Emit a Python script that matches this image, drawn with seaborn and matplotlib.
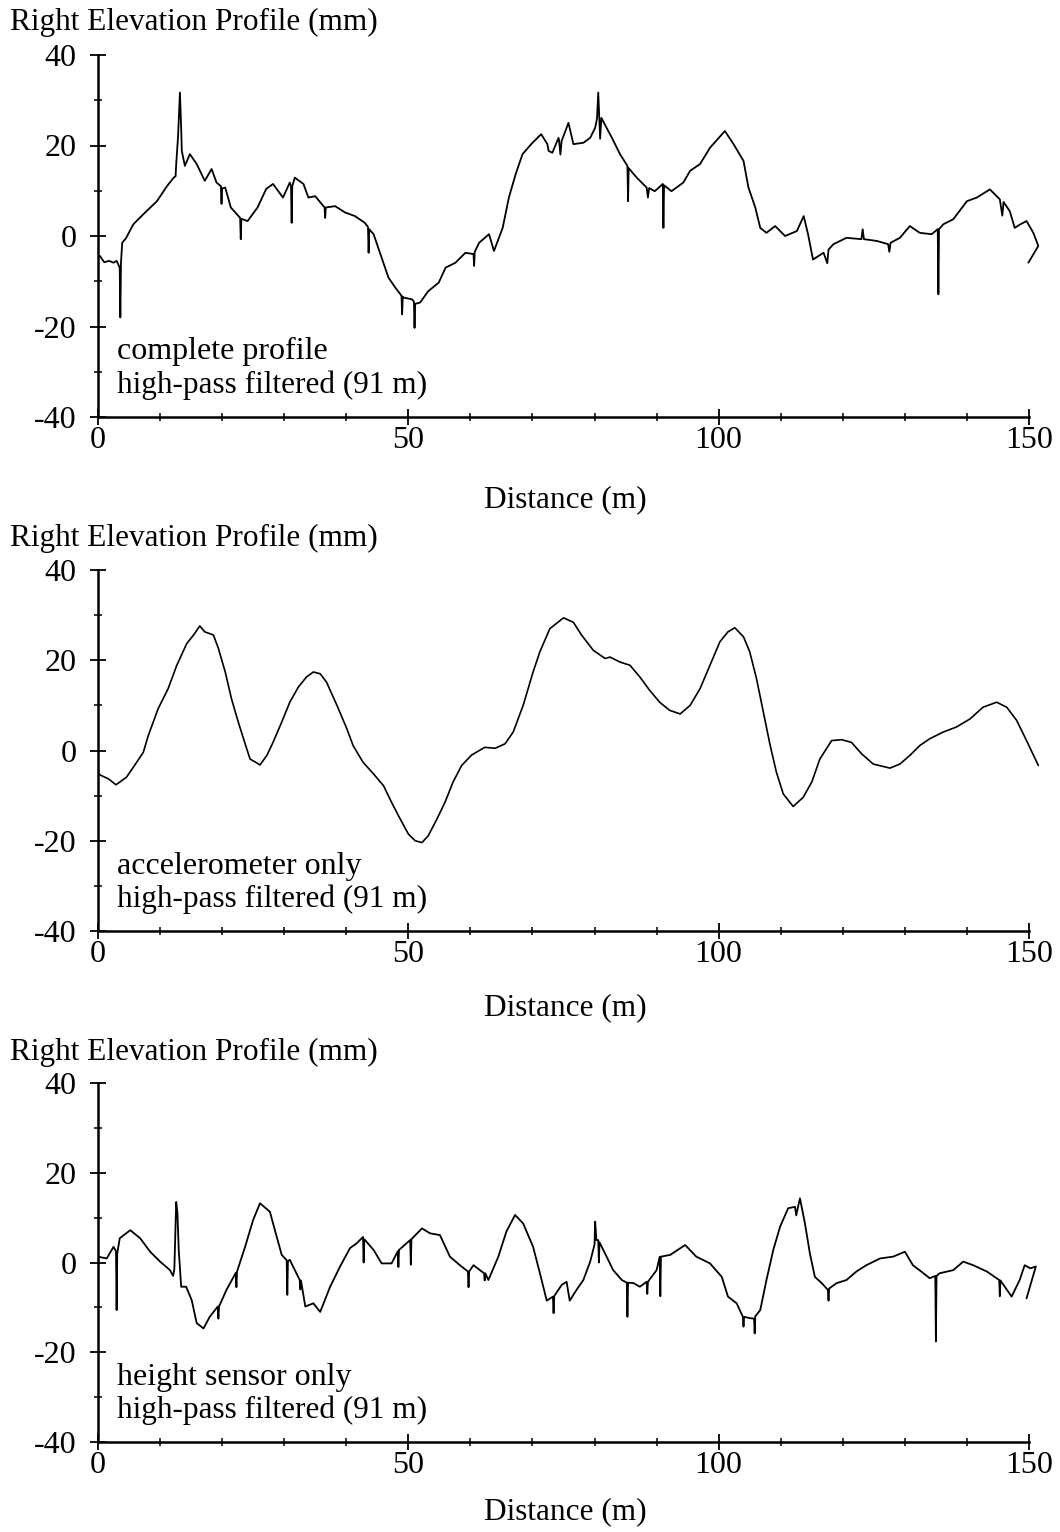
import matplotlib
matplotlib.use("Agg")
import matplotlib.pyplot as plt
import seaborn as sns
import pandas as pd
from matplotlib.ticker import MultipleLocator

# (distance m, elevation mm) samples of the three right-wheel-path profiles
complete_pts = [
    (0.0, -4.5), (0.3, -4.4), (1.0, -5.8), (1.8, -5.5), (2.5, -5.9), (3.0, -5.5), (3.5, -7.0),
    (3.6, -18.0), (3.7, -6.0), (3.9, -1.5), (4.5, -0.5), (5.7, 2.6), (7.3, 4.8), (9.5, 7.7),
    (11.1, 11.0), (12.2, 12.9), (12.5, 13.2), (12.6, 15.9), (12.9, 22.0), (13.2, 31.7),
    (13.4, 24.0), (13.5, 18.8), (14.0, 15.5), (14.8, 18.1), (15.9, 15.9), (17.2, 12.2),
    (18.3, 14.8), (19.1, 11.8), (19.8, 11.0), (19.9, 7.1), (20.0, 10.5), (20.5, 10.7),
    (21.4, 6.3), (22.9, 4.0), (23.0, -0.7), (23.1, 3.8), (24.1, 3.3), (25.7, 6.3), (27.1, 10.4),
    (28.2, 11.5), (29.8, 8.5), (30.9, 11.8), (31.1, 11.0), (31.2, 2.9), (31.3, 11.0),
    (31.7, 12.9), (33.1, 11.5), (33.9, 8.5), (35.0, 8.8), (36.5, 6.3), (36.6, 4.0), (36.7, 6.3),
    (38.2, 6.6), (39.8, 5.2), (41.4, 4.4), (43.0, 2.9), (43.5, 2.0), (43.6, -3.7), (43.7, 1.5),
    (44.4, 0.4), (45.7, -4.8), (46.8, -9.2), (47.9, -11.4), (48.9, -13.2), (49.0, -17.3),
    (49.1, -13.4), (49.2, -13.6), (50.6, -14.0), (50.9, -14.5), (51.0, -20.3), (51.1, -15.0),
    (51.9, -14.7), (53.2, -12.2), (54.9, -10.3), (56.0, -7.0), (57.6, -5.9), (59.2, -3.7),
    (60.5, -4.0), (60.6, -6.6), (60.7, -3.5), (61.4, -1.5), (63.0, 0.4), (63.8, -3.3),
    (65.2, 1.8), (66.2, 8.5), (67.3, 13.7), (68.4, 18.1), (70.0, 20.6), (71.4, 22.5),
    (72.4, 20.3), (72.6, 18.8), (73.2, 18.4), (74.2, 21.7), (74.3, 21.0), (74.5, 18.0),
    (74.7, 21.0), (75.8, 25.0), (76.6, 20.3), (78.2, 20.6), (79.3, 21.7), (80.1, 23.9),
    (80.4, 26.0), (80.6, 31.7), (80.8, 25.0), (80.9, 21.5), (81.1, 26.1), (82.8, 21.7),
    (84.1, 18.1), (85.3, 15.5), (85.4, 7.7), (85.5, 15.0), (86.8, 12.9), (88.4, 10.7),
    (88.6, 8.5), (88.8, 10.6), (89.7, 9.9), (91.0, 11.5), (91.1, 1.8), (91.2, 11.2),
    (92.4, 9.9), (94.3, 11.8), (95.4, 14.4), (97.0, 15.9), (98.6, 19.5), (101.0, 23.2),
    (102.4, 20.3), (104.0, 16.6), (104.8, 10.7), (105.9, 6.3), (106.7, 1.8), (107.7, 0.7),
    (109.1, 2.2), (110.7, 0.0), (112.6, 1.1), (113.7, 4.4), (114.4, 0.4), (115.2, -5.2),
    (116.9, -3.7), (117.5, -6.0), (117.7, -3.0), (118.5, -1.8), (120.6, -0.4), (123.0, -0.7),
    (123.2, 1.5), (123.4, -0.7), (125.5, -1.1), (127.3, -1.8), (127.5, -3.5), (127.7, -1.5),
    (129.2, -0.4), (130.8, 2.2), (132.4, 0.7), (134.3, 0.4), (135.3, 1.5), (135.4, -12.9),
    (135.5, 1.5), (136.2, 2.6), (137.8, 3.7), (140.0, 7.7), (141.6, 8.5), (143.7, 10.3),
    (145.3, 8.1), (145.7, 4.5), (145.9, 7.5), (146.9, 5.5), (147.7, 1.8), (148.5, 2.5),
    (149.6, 3.3), (150.7, 0.7), (151.5, -2.2), (149.9, -5.9),
]

accel_pts = [
    (0.0, -5.0), (0.3, -5.4), (1.7, -6.3), (2.9, -7.6), (4.6, -5.9), (5.7, -3.7), (7.3, -0.4),
    (8.1, 3.3), (9.7, 9.3), (11.3, 13.7), (12.7, 18.9), (14.3, 23.7), (15.4, 25.6),
    (16.4, 27.6), (17.2, 26.3), (18.6, 25.6), (19.4, 22.6), (20.5, 17.4), (21.5, 11.5),
    (22.6, 6.3), (23.7, 1.5), (24.5, -1.9), (25.4, -2.6), (26.1, -3.2), (27.2, -1.1),
    (28.2, 1.8), (29.6, 6.3), (30.9, 10.7), (32.3, 14.1), (33.6, 16.3), (34.7, 17.4),
    (35.8, 17.0), (36.8, 15.2), (38.5, 10.0), (40.1, 4.8), (41.1, 1.1), (42.7, -2.6),
    (44.4, -5.2), (46.0, -7.8), (47.3, -11.5), (48.7, -15.2), (50.0, -18.5), (51.1, -20.0),
    (52.2, -20.4), (53.2, -18.9), (54.6, -15.2), (55.9, -11.5), (57.2, -7.0), (58.6, -3.3),
    (60.2, -1.0), (62.3, 0.7), (64.0, 0.5), (65.6, 1.5), (66.9, 4.1), (68.5, 10.0),
    (70.1, 17.4), (71.2, 21.9), (72.8, 27.0), (75.0, 29.4), (76.6, 28.4), (77.9, 25.6),
    (79.8, 22.2), (81.7, 20.4), (82.5, 20.7), (84.1, 19.6), (85.7, 18.9), (87.3, 16.3),
    (88.9, 13.3), (90.5, 10.7), (92.1, 8.9), (93.8, 8.1), (95.4, 10.0), (97.0, 13.7),
    (98.6, 18.9), (100.2, 24.1), (101.5, 26.3), (102.6, 27.2), (104.0, 25.2), (105.0, 21.9),
    (106.1, 15.9), (107.2, 8.5), (108.3, 1.1), (109.3, -4.8), (110.4, -9.6), (112.0, -12.4),
    (113.6, -10.4), (115.0, -7.0), (116.3, -1.9), (118.2, 2.2), (119.8, 2.4), (121.4, 1.8),
    (123.0, -0.7), (124.9, -3.0), (127.6, -3.9), (129.2, -3.0), (130.8, -1.1), (132.4, 1.1),
    (134.0, 2.6), (136.2, 4.1), (138.3, 5.2), (140.5, 7.0), (142.6, 9.6), (144.8, 10.7),
    (146.4, 9.6), (148.0, 6.7), (149.6, 2.2), (151.5, -3.3),
]

height_pts = [
    (0.0, 1.3), (1.4, 0.9), (2.5, 3.5), (2.9, 2.5), (3.0, -10.6), (3.1, 2.0), (3.5, 5.4),
    (5.2, 7.2), (6.8, 5.4), (8.4, 2.4), (10.0, 0.2), (11.6, -1.7), (12.1, -3.0), (12.3, -1.5),
    (12.5, 8.0), (12.6, 13.5), (12.8, 11.0), (13.0, 3.0), (13.4, -5.4), (14.2, -5.4),
    (15.1, -8.4), (15.9, -13.5), (17.0, -14.7), (18.0, -12.1), (19.3, -9.8), (19.4, -12.5),
    (19.5, -9.8), (20.7, -6.1), (22.2, -2.3), (22.3, -5.5), (22.4, -2.0), (23.7, 3.5),
    (25.0, 9.5), (26.1, 13.2), (27.7, 11.3), (28.5, 7.2), (29.6, 1.7), (30.4, 0.5),
    (30.5, -7.2), (30.6, 0.3), (30.9, 0.6), (32.5, -3.9), (32.6, -6.0), (32.7, -4.0),
    (33.4, -9.8), (34.7, -9.1), (35.8, -11.0), (37.4, -5.4), (39.0, -0.9), (40.6, 3.2),
    (41.7, 4.3), (42.7, 5.7), (42.8, 0.0), (42.9, 5.2), (44.4, 2.8), (45.7, -0.2),
    (47.3, -0.2), (48.3, 2.5), (48.4, -1.0), (48.5, 2.8), (50.3, 5.0), (50.4, -0.5),
    (50.5, 5.2), (52.2, 7.6), (53.5, 6.5), (55.1, 6.1), (56.7, 1.3), (58.3, -0.6),
    (59.6, -2.0), (59.7, -5.5), (59.8, -2.0), (60.5, -0.6), (62.2, -2.4), (62.3, -4.0),
    (62.4, -2.4), (62.9, -3.9), (64.5, 1.3), (65.8, 6.9), (67.2, 10.6), (68.5, 8.7),
    (70.1, 3.5), (71.2, -2.4), (72.3, -8.5), (73.3, -7.6), (73.4, -11.3), (73.5, -7.5),
    (74.7, -5.0), (75.5, -4.3), (76.0, -8.5), (77.1, -6.1), (78.2, -3.9), (79.3, 0.2),
    (80.0, 4.0), (80.1, 9.1), (80.3, 5.0), (80.6, 5.0), (80.7, 0.0), (80.8, 4.5), (81.7, 2.0),
    (83.0, -1.7), (84.4, -3.9), (85.2, -4.5), (85.3, -12.1), (85.4, -4.5), (86.3, -4.6),
    (87.3, -5.4), (88.4, -4.3), (88.5, -7.0), (88.6, -4.3), (90.0, -1.7), (90.5, 1.3),
    (90.6, -7.5), (90.7, 1.3), (92.2, 1.7), (94.6, 3.9), (96.4, 1.3), (98.6, -0.2),
    (100.5, -3.2), (101.5, -7.6), (102.9, -9.1), (103.9, -12.1), (104.0, -14.3),
    (104.1, -12.1), (105.0, -12.4), (105.7, -12.5), (105.8, -15.8), (105.9, -12.0),
    (106.7, -10.6), (107.7, -3.9), (108.8, 2.8), (109.9, 8.0), (111.2, 12.1), (112.3, 12.4),
    (112.5, 10.5), (112.8, 12.5), (113.1, 14.3), (113.9, 8.7), (114.7, 2.0), (115.5, -3.2),
    (116.6, -4.6), (117.6, -6.1), (117.7, -8.5), (117.8, -5.8), (119.0, -4.6), (120.6, -3.9),
    (122.2, -2.0), (123.8, -0.6), (126.0, 0.9), (128.1, 1.3), (130.0, 2.4), (131.3, -0.6),
    (133.0, -2.4), (134.0, -3.5), (134.9, -3.0), (135.0, -17.6), (135.1, -3.0), (135.6, -2.4),
    (137.8, -1.7), (139.4, 0.2), (141.0, -0.6), (143.2, -2.0), (145.2, -3.9), (145.3, -7.5),
    (145.4, -4.0), (147.2, -7.6), (148.5, -3.9), (149.3, -0.6), (150.2, -1.3), (151.1, -0.9),
    (149.6, -8.0),
]

panel_title = "Right Elevation Profile (mm)"
panel_notes = [
    ("complete profile", "high-pass filtered (91 m)"),
    ("accelerometer only", "high-pass filtered (91 m)"),
    ("height sensor only", "high-pass filtered (91 m)"),
]
x_label = "Distance (m)"
x_ticks = [0, 50, 100, 150]
y_ticks = [-40, -20, 0, 20, 40]

sns.set_style("ticks")
plt.rcParams["font.family"] = ["Liberation Serif", "DejaVu Serif"]
plt.rcParams["font.size"] = 22
plt.rcParams["axes.unicode_minus"] = False
plt.rcParams["text.color"] = "black"
plt.rcParams["axes.labelcolor"] = "black"

W, H = 1060, 1532
fig = plt.figure(figsize=(W / 100, H / 100), dpi=100)

# per panel: pixel rows of y=40 and y=-40, title row, x-label top row, line width
layout = [
    (55, 417, 22, 485, 1.3),
    (570, 931, 538, 993, 1.2),
    (1083, 1442, 1052, 1497, 1.3),
]
x0_px, x_end = 98, 152
px_per_m = (1029 - 98) / 150.0
ax_w = x_end * px_per_m

for pts, (top, bot, ty, lab_top, lw), (n1, n2) in zip(
        [complete_pts, accel_pts, height_pts], layout, panel_notes):
    ax = fig.add_axes([x0_px / W, 1 - bot / H, ax_w / W, (bot - top) / H])
    df = pd.DataFrame(pts, columns=["distance", "elevation"])
    sns.lineplot(data=df, x="distance", y="elevation", sort=False, estimator=None,
                 color="black", linewidth=lw, ax=ax)
    ax.set_xlim(0, x_end)
    ax.set_ylim(-40, 40)
    for side in ("top", "right"):
        ax.spines[side].set_visible(False)
    ax.spines["left"].set_bounds(-40, 40)
    ax.spines["bottom"].set_bounds(0, 150)
    for side in ("left", "bottom"):
        ax.spines[side].set_linewidth(1.8)
        ax.spines[side].set_color("black")
    ax.set_xticks(x_ticks)
    ax.set_yticks(y_ticks)
    ax.xaxis.set_minor_locator(MultipleLocator(10))
    ax.yaxis.set_minor_locator(MultipleLocator(10))
    ax.tick_params(axis="both", which="major", direction="inout", length=11, width=1.3,
                   colors="black", labelsize=23)
    ax.tick_params(axis="both", which="minor", direction="inout", length=6, width=1.1,
                   colors="black")
    ax.tick_params(axis="y", which="major", pad=10)
    ax.tick_params(axis="x", which="major", pad=1)
    ax.set_xlabel(x_label, fontsize=22.5, color="black")
    ax.xaxis.set_label_coords((565 - x0_px) / ax_w, -(lab_top - bot) / (bot - top))
    ax.set_ylabel("")
    ax.text(3.0, -25.6, n1, fontsize=23, ha="left", va="center", color="black")
    ax.text(3.0, -33.0, n2, fontsize=22.5, ha="left", va="center", color="black")
    fig.text(10 / W, 1 - ty / H, panel_title, fontsize=22.5, ha="left", va="center",
             color="black")

fig.savefig("out.png", dpi=100, facecolor="white")
